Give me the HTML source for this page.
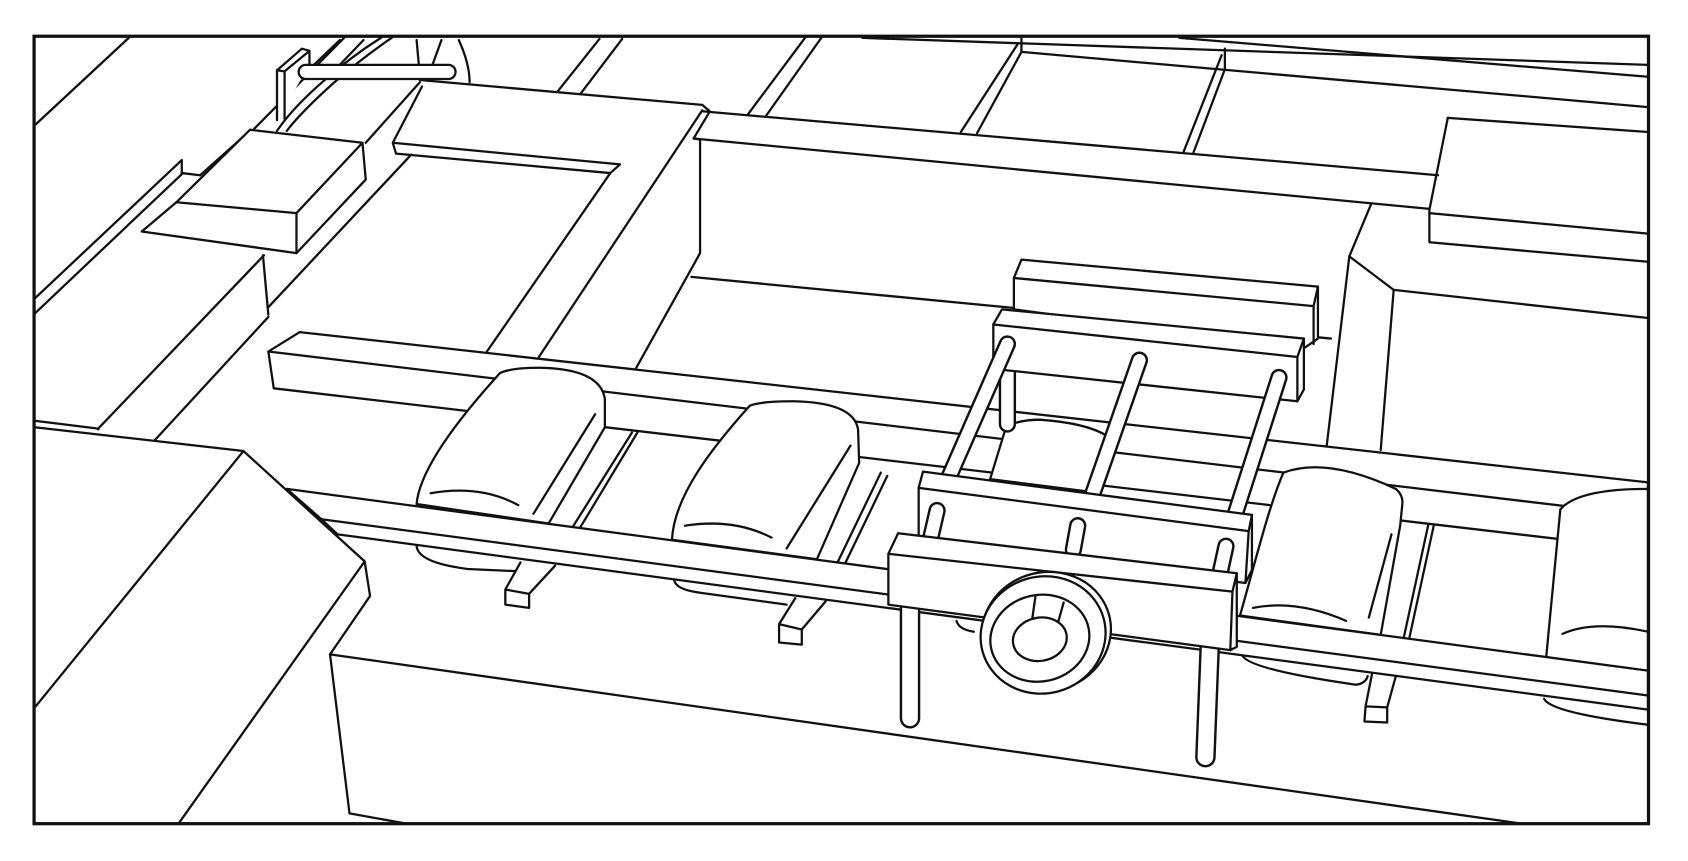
<!DOCTYPE html>
<html><head><meta charset="utf-8"><style>
html,body{margin:0;padding:0;background:#fff;width:1688px;height:861px;overflow:hidden}
svg{display:block}
</style></head><body>
<svg width="1688" height="861" viewBox="0 0 1560 796" preserveAspectRatio="none" xmlns="http://www.w3.org/2000/svg">
<rect x="0" y="0" width="1560" height="796" fill="#fff"/>
<g fill="none" stroke="#111" stroke-width="2.1" stroke-linejoin="round" stroke-linecap="round">
<!-- top back lines -->
<line x1="797" y1="35" x2="1523" y2="60"/>
<line x1="1090" y1="35" x2="1523" y2="71"/>
<line x1="944" y1="48" x2="1523" y2="99"/>
<line x1="744" y1="35" x2="691" y2="106"/>
<line x1="759" y1="35" x2="708" y2="107"/>
<line x1="944" y1="35" x2="944" y2="48"/>
<line x1="941" y1="40" x2="888" y2="122"/>
<line x1="944" y1="48" x2="903" y2="123"/>
<line x1="1132" y1="45" x2="1132" y2="64"/>
<line x1="1129" y1="51" x2="1094" y2="140"/>
<line x1="1132" y1="64" x2="1103" y2="141"/>
<line x1="554" y1="36" x2="515" y2="85"/>
<line x1="575" y1="36" x2="537" y2="86"/>
<!-- top beam -->
<path d="M650,103 L1329,162"/>
<path d="M641,128 L1320,193"/>
<path d="M649,97 L656,103 L641,128 L647,129 L647,234 L588,340"/>
<line x1="639" y1="256" x2="1230" y2="313"/>
<!-- right blocks -->
<path d="M1338,109 L1523,122"/>
<path d="M1338,109 L1321,194 L1321,224 L1523,242"/>
<path d="M1321,197 L1523,216"/>
<path d="M1267,189 L1247,237 L1288,268 L1523,294"/>
<line x1="1247" y1="237" x2="1226" y2="413"/>
<line x1="1288" y1="268" x2="1276" y2="416"/>
<!-- slab -->
<path d="M388,74 L649,97"/>
<line x1="649" y1="102" x2="498" y2="330"/>
<path d="M390,80 L363,132 L573,152 L564,160 L366,142 L363,132"/>
<line x1="564" y1="160" x2="450" y2="325"/>
<line x1="338" y1="132" x2="388" y2="76"/>
<!-- top left -->
<line x1="33" y1="115" x2="119" y2="35"/>
<path d="M32,276 L168,148 L168,161 L32,290"/>
<path d="M168,160 L185,162 L232,120"/>
<line x1="235" y1="119" x2="318" y2="35"/>
<line x1="290" y1="60" x2="314" y2="37"/>
<line x1="314" y1="60" x2="336" y2="37"/>
<path d="M385,37 L387,59 M408,37 L400,59 M424,37 Q434,59 434,76"/>
<path d="M352,35 Q325,52 300,74 Q270,100 256,121" />
<path d="M362,35 Q334,54 308,77 Q278,104 265,121" />
<path d="M256,111 L256,65 L279,45 L286,47 L286,60 M256,65 L263,66 L263,110 M263,66 L286,47" fill="#fff"/>
<rect x="276" y="60" width="145" height="13" rx="6.5" fill="#fff"/>
<!-- small top box -->
<path d="M231,120 L335,132 L338,166 L274,234 L131,214 L163,187 Z" fill="#fff"/>
<path d="M163,187 L274,197 L335,132 M274,197 L274,234"/>
<line x1="244" y1="236" x2="91" y2="396"/>
<line x1="243" y1="236" x2="248" y2="291"/>
<line x1="248" y1="293" x2="143" y2="407"/>
<line x1="248" y1="284" x2="380" y2="143"/>
<path d="M32,389 L89,396 L91,397"/>
<!-- back beam -->
<path d="M277,307 L1523,446 L1523,508 L253,359 L248,325 Z" fill="#fff"/>
<line x1="248" y1="325" x2="1523" y2="477"/>
<!-- rollers -->
<path d="M385,466 C388,431 432,378 462,345 Q472,340 499,340 Q555,341 559,369 L559,395 L507,484 Z" fill="#fff"/>
<line x1="550" y1="383" x2="493" y2="475"/>
<line x1="584" y1="400" x2="530" y2="486"/>
<line x1="589" y1="400" x2="536" y2="488"/>
<path d="M398,456 Q444,448 479,467"/>
<path d="M621,499 C623,459 657,415 693,375 Q703,371 733,371 Q789,372 793,397 L794,428 L755,517 Z" fill="#fff"/>
<line x1="786" y1="412" x2="727" y2="507"/>
<line x1="814" y1="437" x2="774" y2="520"/>
<line x1="820" y1="440" x2="781" y2="521"/>
<path d="M633,486 Q678,479 713,497"/>
<path d="M915,443 L930,394 Q943,388 961,388 Q1004,391 1023,403 L1010,455 Z" fill="#fff"/>
<path d="M1146,569 C1160,520 1172,470 1186,437 Q1226,422 1290,452 Q1297,458 1296,466 L1294,486 L1276,587 Z" fill="#fff"/>
<line x1="1286" y1="494" x2="1265" y2="571"/>
<line x1="1320" y1="485" x2="1297" y2="591"/>
<line x1="1325" y1="486" x2="1302" y2="592"/>
<path d="M1158,562 Q1198,554 1244,574"/>
<path d="M1429,607 L1442,471 Q1458,452 1523,452 L1523,640 Z" fill="#fff"/>
<path d="M1444,586 Q1473,573 1523,584"/>
<!-- under-rail roller bottoms -->
<path d="M385,504 Q385,520 432,526 L476,528"/>
<path d="M623,536 Q624,545 647,548 L727,559"/>
<path d="M1148,606 Q1155,619 1253,633 Q1262,632 1264,625"/>
<path d="M1427,646 Q1433,659 1523,670"/>
<!-- bars below rail -->
<path d="M481,520 L467,545 L467,559 L489,562 L489,549 L513,523 M467,545 L489,549" fill="#fff"/>
<path d="M735,553 L720,577 L720,594 L741,596 L741,582 L763,556 M720,577 L741,582" fill="#fff"/>
<path d="M1268,623 L1262,653 L1261,667 L1282,668 L1282,654 L1290,625 M1262,653 L1282,654" fill="#fff"/>
<!-- front rail -->
<path d="M265,452 L1523,620 L1523,656 L312,494 L297,480 Z" fill="#fff"/>
<line x1="297" y1="480" x2="1523" y2="643"/>
<!-- left big box -->
<path d="M33,394 L225,417 L337,519 L342,551 L305,605 L323,752 L373,761 L33,761 Z" fill="#fff" stroke="none"/>
<path d="M32,395 L225,417 L337,519 L342,551 L305,605 L323,752 L373,761"/>
<line x1="225" y1="417" x2="33" y2="653"/>
<line x1="337" y1="519" x2="166" y2="760"/>
<line x1="305" y1="605" x2="1403" y2="761"/>
<!-- cart: back bar, pegs -->
<g stroke-width="16"><line x1="955" y1="271" x2="948" y2="296"/><line x1="1071" y1="283" x2="1066" y2="302"/><line x1="1197" y1="297" x2="1192" y2="316"/></g>
<g stroke="#fff" stroke-width="11.5"><line x1="955" y1="271" x2="948" y2="296"/><line x1="1071" y1="283" x2="1066" y2="302"/><line x1="1197" y1="297" x2="1192" y2="316"/></g>
<path d="M944,240 L1218,265 L1218,313 L1205,322 L937,286 L937,257 Z" fill="#fff"/>
<path d="M937,257 L1214,283 L1218,265 M1214,283 L1214,318"/>
<!-- post under bar2 -->
<line x1="931" y1="343" x2="931" y2="392" stroke-width="16"/>
<line x1="931" y1="343" x2="931" y2="392" stroke="#fff" stroke-width="11.5"/>
<!-- bar2 -->
<path d="M926,286 L1205,313 L1205,360 L1199,371 L918,341 L918,300 Z" fill="#fff"/>
<path d="M918,300 L1199,330 L1205,313 M1199,330 L1199,371"/>
<!-- long rods -->
<g stroke-width="16"><line x1="931" y1="318" x2="874" y2="448"/><line x1="1053" y1="333" x2="1008" y2="462"/><line x1="1182" y1="349" x2="1142" y2="474"/></g>
<g stroke="#fff" stroke-width="11.5"><line x1="931" y1="318" x2="874" y2="448"/><line x1="1053" y1="333" x2="1008" y2="462"/><line x1="1182" y1="349" x2="1142" y2="474"/></g>
<!-- bar3 -->
<path d="M853,436 L1157,476 L1157,527 L1151,539 L849,500 L849,451 Z" fill="#fff"/>
<path d="M849,451 L1154,491 L1157,476 M1154,491 L1151,539"/>
<!-- front pegs -->
<g stroke-width="16"><line x1="866" y1="472" x2="860" y2="498"/><line x1="996" y1="486" x2="992" y2="508"/><line x1="1133" y1="505" x2="1128" y2="528"/></g>
<g stroke="#fff" stroke-width="11.5"><line x1="866" y1="472" x2="860" y2="498"/><line x1="996" y1="486" x2="992" y2="508"/><line x1="1133" y1="505" x2="1128" y2="528"/></g>
<!-- legs -->
<g stroke-width="19"><line x1="841" y1="560" x2="841" y2="664"/><line x1="1118" y1="598" x2="1114" y2="700"/></g>
<g stroke="#fff" stroke-width="14.5"><line x1="841" y1="560" x2="841" y2="664"/><line x1="1118" y1="598" x2="1114" y2="700"/></g>
<!-- bar4 -->
<path d="M830,493 L1143,530 L1143,598 L1137,601 L821,559 L821,512 Z" fill="#fff"/>
<path d="M821,512 L1139,547 L1143,530 M1139,547 L1137,601"/>
<path d="M884,574 Q886,582 900,584"/>
<!-- wheel -->
<ellipse cx="967" cy="584" rx="60" ry="55" transform="rotate(-15 967 584)" fill="#fff"/>
<ellipse cx="964" cy="587" rx="58" ry="54" transform="rotate(-15 964 587)" fill="#fff"/>
<ellipse cx="961" cy="590" rx="46" ry="40" transform="rotate(-12 961 590)"/>
<line x1="957" y1="551" x2="954" y2="572"/>
<line x1="983" y1="557" x2="978" y2="575"/>
<ellipse cx="961" cy="591" rx="25" ry="20" transform="rotate(-10 961 591)" fill="#fff"/>
</g>
<!-- frame -->
<rect x="31.5" y="33.5" width="1492" height="728" fill="none" stroke="#111" stroke-width="3"/>
</svg>
</body></html>
